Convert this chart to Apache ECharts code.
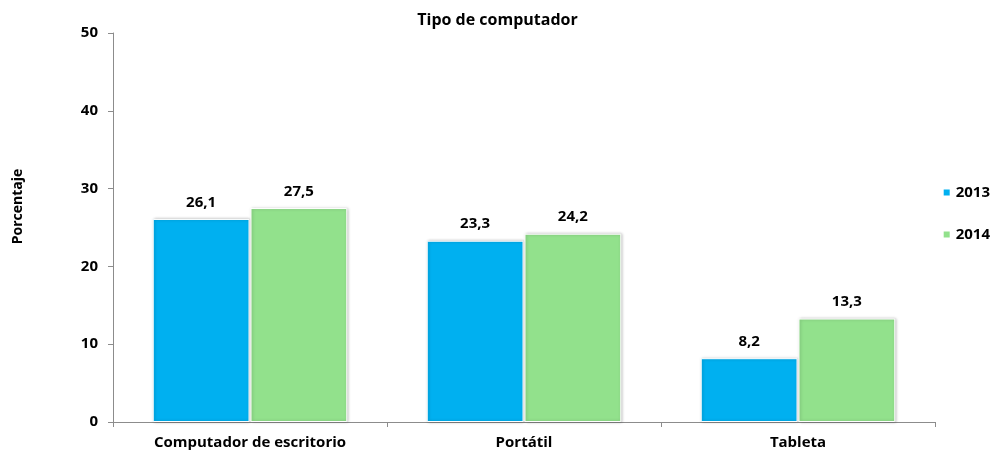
<!DOCTYPE html>
<html><head><meta charset="utf-8">
<script src="https://cdn.jsdelivr.net/npm/echarts@6/dist/echarts.min.js"></script>
<style>html,body{margin:0;padding:0;background:#fff}#c{width:995px;height:453px}</style>
</head><body><div id="c"></div>
<script>
const categories = ['Computador de escritorio', 'Portátil', 'Tableta'];
const series2013 = [26.1, 23.3, 8.2];
const series2014 = [27.5, 24.2, 13.3];
const seriesNames = ['2013', '2014'];
const yTicks = {min: 0, max: 50, interval: 10};

const font = '"Open Sans", "Liberation Sans", sans-serif';
const fmt = p => String(p.value).replace('.', ',');
const chart = echarts.init(document.getElementById('c'), null, {renderer: 'canvas'});
const barStyle = (color) => ({
  color: color,
  borderColor: '#fff',
  borderWidth: 1,
  shadowColor: 'rgba(0,0,0,0.25)',
  shadowBlur: 3,
  shadowOffsetX: 1,
  shadowOffsetY: 0
});
const label = {show: true, position: 'top', distance: 9, formatter: fmt,
  fontFamily: font, fontWeight: 'bold', fontSize: 15, color: '#000'};
chart.setOption({
  animation: false,
  title: {text: 'Tipo de computador', left: 'center', top: 7,
    textStyle: {fontFamily: font, fontWeight: 'bold', fontSize: 16, color: '#000'}},
  legend: {orient: 'vertical', right: 0, top: 180, itemWidth: 8, itemHeight: 8, itemGap: 27,
    icon: 'rect', data: seriesNames,
    textStyle: {fontFamily: font, fontWeight: 'bold', fontSize: 15, color: '#000'}},
  grid: {left: 113, right: 60, top: 33, bottom: 31, containLabel: false},
  xAxis: {type: 'category', data: categories,
    axisLine: {lineStyle: {color: '#8c8c8c'}},
    axisTick: {show: true, alignWithLabel: false, length: 5, lineStyle: {color: '#8c8c8c'}},
    axisLabel: {fontFamily: font, fontWeight: 'bold', fontSize: 15, color: '#000', margin: 13}},
  yAxis: {type: 'value', min: yTicks.min, max: yTicks.max, interval: yTicks.interval,
    name: 'Porcentaje', nameLocation: 'middle', nameGap: 88, nameRotate: 90,
    nameTextStyle: {fontFamily: font, fontWeight: 'bold', fontSize: 14, color: '#000', padding: [0, 0, 0, 42]},
    axisLine: {show: true, lineStyle: {color: '#8c8c8c'}},
    axisTick: {show: true, length: 5, lineStyle: {color: '#8c8c8c'}},
    splitLine: {show: false},
    axisLabel: {fontFamily: font, fontWeight: 'bold', fontSize: 15, color: '#000', margin: 15}},
  series: [
    {name: seriesNames[0], type: 'bar', data: series2013, barGap: '1%', barCategoryGap: '29%',
      itemStyle: barStyle('#00B0F0'), label: label},
    {name: seriesNames[1], type: 'bar', data: series2014, barGap: '1%', barCategoryGap: '29%',
      itemStyle: barStyle('#92E18C'), label: label}
  ]
});
</script></body></html>
